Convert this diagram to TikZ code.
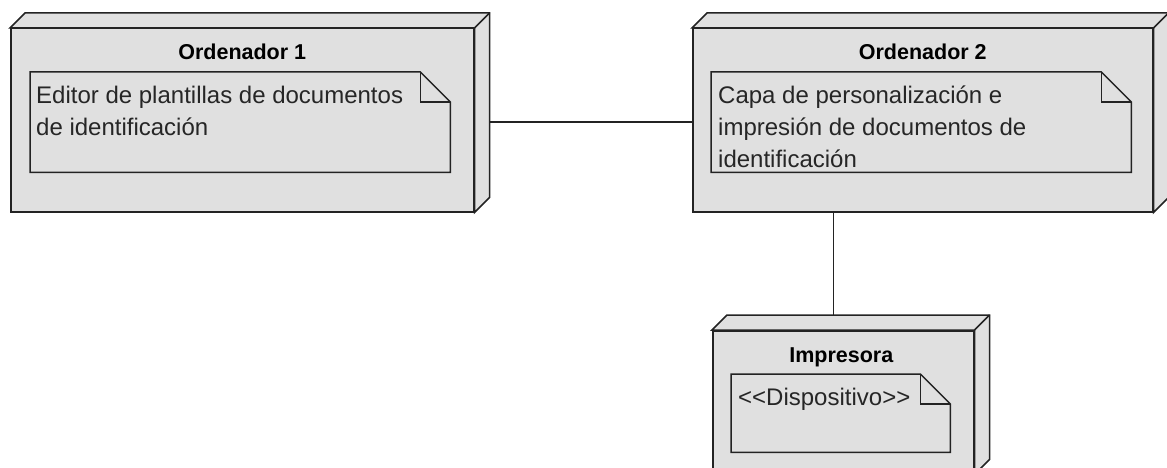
\documentclass[tikz,border=0pt]{standalone}
\usepackage{fontspec}
\setmainfont{Liberation Sans}
\usetikzlibrary{calc,backgrounds}
\definecolor{boxfill}{RGB}{224,224,224}
\definecolor{edgecol}{RGB}{35,35,35}
\tikzset{
  front/.style={draw=edgecol, fill=boxfill, line width=1.5pt, inner sep=0pt, anchor=north west, rectangle},
  face/.style={draw=edgecol, fill=boxfill, line width=1.5pt, line join=miter},
  noteframe/.style={inner sep=0pt, anchor=north west, rectangle},
  noteline/.style={draw=edgecol, fill=boxfill, line width=1.5pt, line join=miter},
  title/.style={anchor=base, font=\fontsize{21.5}{26}\selectfont\bfseries, text=black},
  notetext/.style={anchor=north west, inner sep=0pt, align=left, font=\fontsize{24}{32}\selectfont, text=black!85},
  link/.style={draw=edgecol, line width=1.5pt}
}
\newcommand\depthfaces[1]{%
  \path[face] (#1.north west) -- ++(15,-15) -- ($(#1.north east)+(15,-15)$) -- ($(#1.south east)+(15,-15)$) -- (#1.south east) -- (#1.north east) -- cycle;
  \draw[face, fill=none] (#1.north east) -- ++(15,-15);
}
\newcommand\notepath[1]{%
  \path[noteline] (#1.north west) -- ($(#1.north east)+(-30,0)$) -- ($(#1.north east)+(0,30)$) -- (#1.south east) -- (#1.south west) -- cycle;
  \draw[noteline, fill=none] ($(#1.north east)+(-30,0)$) -- ++(0,30) -- ++(30,0);
}
\begin{document}
\begin{tikzpicture}[x=1pt,y=-1pt]
\useasboundingbox (0,0) rectangle (1167,468);
% Ordenador 1
\node[front, minimum width=463pt, minimum height=183pt] (n1) at (10,28) {};
\depthfaces{n1}
\node[title] (t1) at ($(n1.north)+(0,32)$) {Ordenador 1};
\node[noteframe, minimum width=420pt, minimum height=100pt] (note1) at ($(n1.north west)+(20,44)$) {};
\notepath{note1}
\node[notetext] (x1) at ($(note1.north west)+(6,14)$) {Editor de plantillas de documentos\\de identificación};
% Ordenador 2
\node[front, minimum width=460pt, minimum height=183pt] (n2) at (692,28) {};
\depthfaces{n2}
\node[title] (t2) at ($(n2.north)+(0,32)$) {Ordenador 2};
\node[noteframe, minimum width=420pt, minimum height=100pt] (note2) at ($(n2.north west)+(19,44)$) {};
\notepath{note2}
\node[notetext] (x2) at ($(note2.north west)+(7,14)$) {Capa de personalización e\\impresión de documentos de\\identificación};
% Impresora
\node[front, minimum width=261pt, minimum height=143pt] (imp) at (712,330) {};
\depthfaces{imp}
\node[title] (t3) at ($(imp.north)+(-2,32)$) {Impresora};
\node[noteframe, minimum width=219pt, minimum height=78pt] (note3) at ($(imp.north west)+(19,44)$) {};
\notepath{note3}
\node[notetext] (x3) at ($(note3.north west)+(7,14)$) {<{}<Dispositivo>{}>};
% connectors
\begin{pgfonlayer}{background}
\draw[link] (n1.east |- note2.west) -- (note2.west);
\draw[link] ([xshift=-10pt]n2.south -| imp.north) -- ([xshift=-10pt]imp.north);
\end{pgfonlayer}
\end{tikzpicture}
\end{document}
